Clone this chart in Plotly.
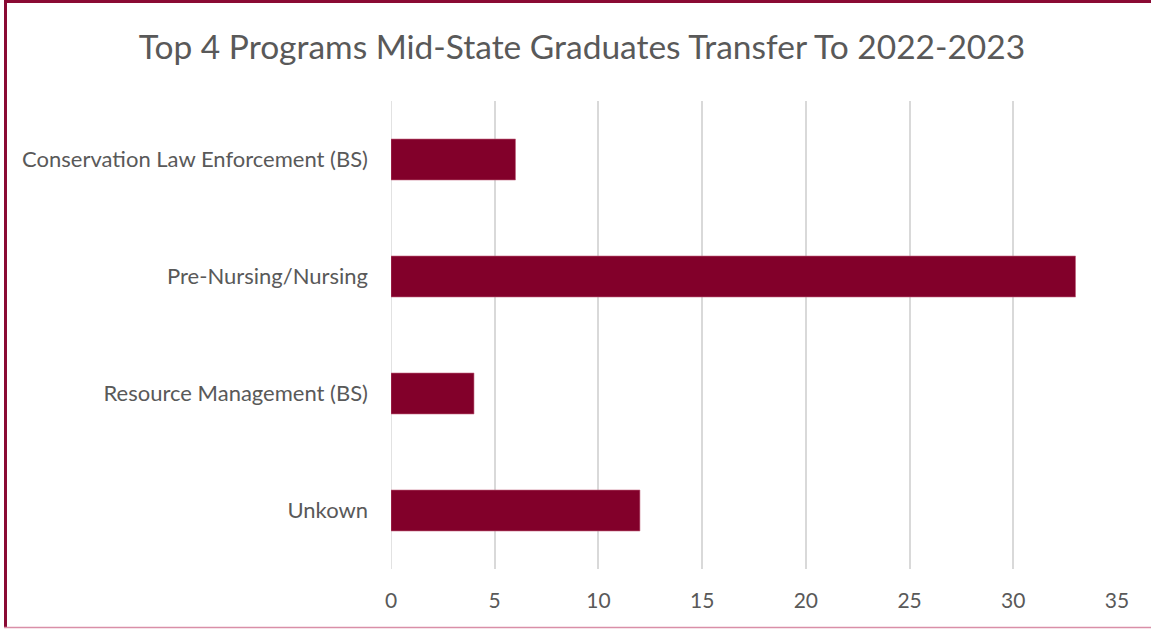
import plotly.graph_objects as go

# chart data
programs = [
    "Conservation Law Enforcement (BS)",
    "Pre-Nursing/Nursing",
    "Resource Management (BS)",
    "Unkown",
]
graduates = [6, 33, 4, 12]
x_ticks = [0, 5, 10, 15, 20, 25, 30, 35]

W, H = 1151, 629
L, R, T, B = 391, 34, 101, 60

fig = go.Figure()
fig.add_trace(go.Bar(
    x=graduates,
    y=programs,
    orientation="h",
    width=0.35,
    marker=dict(color="#82002a", line=dict(color="#c0607a", width=0.6)),
    hoverinfo="x+y",
))

fig.update_layout(
    width=W, height=H,
    margin=dict(l=L, r=R, t=T, b=B),
    paper_bgcolor="white",
    plot_bgcolor="white",
    showlegend=False,
    font=dict(family="Lato, Open Sans, sans-serif", color="#595959"),
    title=dict(
        text="Top 4 Programs Mid-State Graduates Transfer To 2022-2023",
        x=582 / W, xref="container", xanchor="center",
        y=1 - 47 / H, yref="container", yanchor="middle",
        font=dict(size=33.5, color="#595959"),
    ),
    xaxis=dict(
        range=[0, 35],
        tickvals=x_ticks,
        showgrid=True,
        gridcolor="#d9d9d9",
        gridwidth=1.5,
        zeroline=False,
        showline=False,
        ticks="",
        ticklabelstandoff=17,
        tickfont=dict(size=21, color="#595959"),
        fixedrange=True,
    ),
    yaxis=dict(
        categoryorder="array",
        categoryarray=programs[::-1],
        showgrid=False,
        zeroline=False,
        showline=False,
        ticks="",
        ticklabelstandoff=22,
        tickfont=dict(size=22, color="#595959"),
        fixedrange=True,
    ),
)

# zero line on the left of the bars
fig.add_shape(type="line", xref="x", yref="paper", x0=0, x1=0, y0=0, y1=1,
              line=dict(color="#d9d9d9", width=1.5), layer="below")

# outer frame (cut off at the right edge like the source)
px = lambda v: (v - L) / (W - L - R)
py = lambda v: 1 - (v - T) / (H - T - B)
fig.add_shape(type="line", xref="paper", yref="paper",
              x0=px(5.5), x1=px(5.5), y0=py(1), y1=py(628),
              line=dict(color="#8a0a34", width=3))
fig.add_shape(type="line", xref="paper", yref="paper",
              x0=px(4), x1=px(1151), y0=py(1.5), y1=py(1.5),
              line=dict(color="#8a0a34", width=3))
fig.add_shape(type="line", xref="paper", yref="paper",
              x0=px(4), x1=px(1151), y0=py(627.5), y1=py(627.5),
              line=dict(color="#d98fa8", width=1.5))

fig.write_html("out.html", config={"displayModeBar": False},
               post_script="document.body.style.margin='0';")
